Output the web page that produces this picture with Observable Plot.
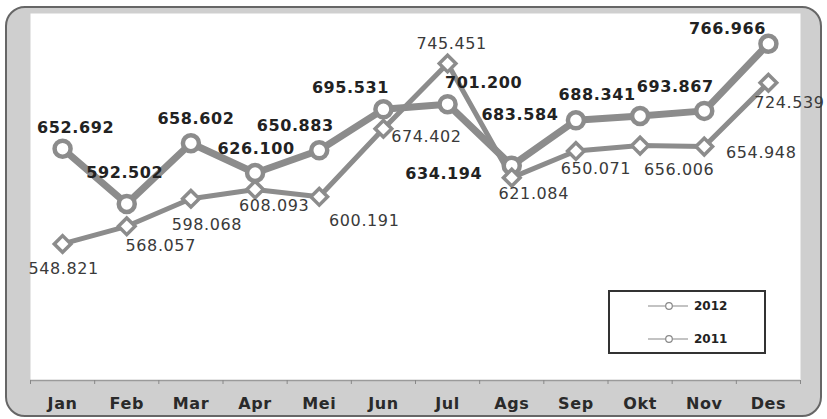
<!DOCTYPE html>
<html>
<head>
<meta charset="utf-8">
<script src="https://cdn.jsdelivr.net/npm/d3@7"></script>
<script src="https://cdn.jsdelivr.net/npm/@observablehq/plot@0.6"></script>
<style>
  body { margin: 0; background: #ffffff; }
  #wrap { position: relative; width: 827px; height: 419px; overflow: hidden; }
  #bg { position: absolute; left: 5px; top: 6px; width: 817px; height: 411px; box-sizing: border-box;
        border: 2px solid #666; border-radius: 20px; background: #cfcfcf; }
  #chart { position: absolute; left: 0; top: 0; }
  #chart svg text { letter-spacing: 0.6px; }
  #legend { position: absolute; left: 608px; top: 290px; width: 158px; height: 64px; box-sizing: border-box;
            border: 2px solid #333; background: #fff; font: bold 12px "DejaVu Sans", sans-serif; color: #222; }
  #legend .row { position: absolute; left: 38px; height: 14px; display: flex; align-items: center; }
  #legend .row span { margin-left: 4px; }
</style>
</head>
<body>
<div id="wrap">
  <div id="bg"></div>
  <div id="chart"></div>
  <div id="legend"></div>
</div>
<script>
// ---- data ----
const months = ["Jan","Feb","Mar","Apr","Mei","Jun","Jul","Ags","Sep","Okt","Nov","Des"];
const values2012 = [652.692, 592.502, 658.602, 626.100, 650.883, 695.531, 701.200, 634.194, 683.584, 688.341, 693.867, 766.966];
const values2011 = [548.821, 568.057, 598.068, 608.093, 600.191, 674.402, 745.451, 621.084, 650.071, 656.006, 654.948, 724.539];
const seriesNames = ["2012", "2011"];

// ---- label placement (pixel offsets from each point) ----
const off2012 = [[13,-21],[-2,-31],[5,-24],[1,-24],[-24,-24],[-33,-21],[36,-21],[-68,8],[-56,-5],[-43,-21],[-29,-24],[-41,-15]];
const off2011 = [[1,25],[34,20],[16,26],[19,16],[45,24],[43,8],[4,-20],[22,16],[20,18],[39,24],[57,6],[21,20]];

const rows = months.map((m, i) => ({i, m, v12: values2012[i], v11: values2011[i]}));
const fmt = d3.format(".3f");
const X = d => d.i + 0.5;
const gray = "#8c8c8c";

const labels12 = rows.map((d, i) => Plot.text([d], {
  x: X, y: "v12", text: r => fmt(r.v12), dx: off2012[i][0], dy: off2012[i][1],
  fontSize: 16, fontWeight: "bold", fill: "#222"
}));
const labels11 = rows.map((d, i) => Plot.text([d], {
  x: X, y: "v11", text: r => fmt(r.v11), dx: off2011[i][0], dy: off2011[i][1],
  fontSize: 16, fill: "#3a3a3a"
}));

const chart = Plot.plot({
  width: 827,
  height: 419,
  marginLeft: 30,
  marginRight: 27,
  marginTop: 13,
  marginBottom: 39,
  style: {background: "transparent", fontFamily: "DejaVu Sans, sans-serif", overflow: "visible"},
  x: {type: "linear", domain: [0, 12], axis: null},
  y: {domain: [400, 800], axis: null},
  marks: [
    Plot.frame({fill: "white"}),
    Plot.ruleY([400], {stroke: "#9a9a9a", strokeWidth: 1.5}),
    Plot.axisX({ticks: d3.range(13), tickSize: 4, tickFormat: () => "", stroke: "#888"}),
    Plot.axisX({ticks: d3.range(12).map(i => i + 0.5), tickSize: 0, tickPadding: 17,
                tickFormat: t => months[Math.floor(t)], fontSize: 16, fontWeight: "bold", fill: "#2a2a2a"}),
    Plot.line(rows, {x: X, y: "v12", stroke: gray, strokeWidth: 7, strokeLinejoin: "round"}),
    Plot.line(rows, {x: X, y: "v11", stroke: gray, strokeWidth: 5, strokeLinejoin: "round"}),
    Plot.dot(rows, {x: X, y: "v12", r: 8, fill: "white", stroke: gray, strokeWidth: 4.5}),
    Plot.dot(rows, {x: X, y: "v11", symbol: "diamond2", r: 7.5, fill: "white", stroke: gray, strokeWidth: 3.5}),
    ...labels12,
    ...labels11
  ]
});
document.getElementById("chart").appendChild(chart);

// ---- legend ----
const legend = document.getElementById("legend");
seriesNames.forEach((name, k) => {
  const row = document.createElement("div");
  row.className = "row";
  row.style.top = (k === 0 ? 7 : 40) + "px";
  row.innerHTML = `<svg width="42" height="14"><line x1="0" y1="7" x2="40" y2="7" stroke="#888" stroke-width="1.2"/>` +
    `<circle cx="21" cy="7" r="3.3" fill="#fff" stroke="#888" stroke-width="1.2"/></svg><span>${name}</span>`;
  legend.appendChild(row);
});
</script>
</body>
</html>
